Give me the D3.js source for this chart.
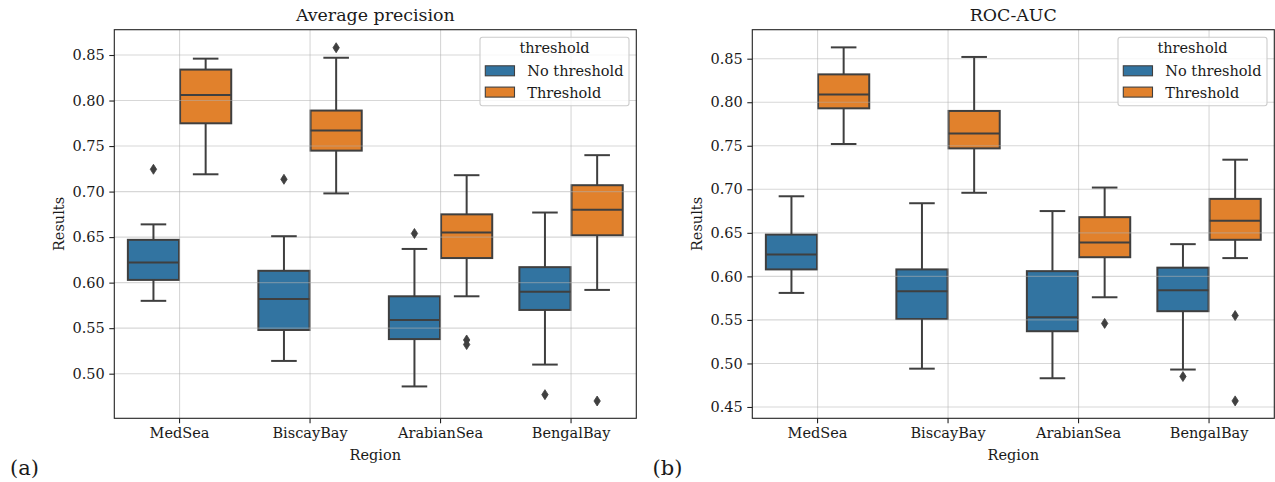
<!DOCTYPE html>
<html>
<head>
<meta charset="utf-8">
<script src="https://cdn.jsdelivr.net/npm/d3@7"></script>
<style>
  html, body { margin: 0; padding: 0; background: #fff; }
  svg { display: block; }
  text { font-family: "DejaVu Serif", serif; fill: #1a1a1a; }
</style>
</head>
<body>
<svg id="chart" width="1275" height="482"></svg>
<script>
// Categories and groups
const regions = ["MedSea", "BiscayBay", "ArabianSea", "BengalBay"];
const groups = ["No threshold", "Threshold"];

// Box statistics per region: [lower whisker, Q1, median, Q3, upper whisker]
const apNoThreshold = [
  [0.580, 0.603, 0.622, 0.647, 0.664],
  [0.514, 0.548, 0.582, 0.613, 0.651],
  [0.486, 0.538, 0.559, 0.585, 0.637],
  [0.510, 0.570, 0.590, 0.617, 0.677]
];
const apThreshold = [
  [0.719, 0.775, 0.806, 0.834, 0.846],
  [0.698, 0.745, 0.767, 0.789, 0.847],
  [0.585, 0.627, 0.655, 0.675, 0.718],
  [0.592, 0.652, 0.680, 0.707, 0.740]
];
const apNoThresholdOutliers = [[0.7245], [0.7135], [0.654], [0.477]];
const apThresholdOutliers = [[], [0.858], [0.537, 0.532], [0.470]];

const rocNoThreshold = [
  [0.581, 0.608, 0.625, 0.648, 0.692],
  [0.494, 0.551, 0.583, 0.608, 0.684],
  [0.483, 0.537, 0.553, 0.606, 0.675],
  [0.493, 0.560, 0.584, 0.610, 0.637]
];
const rocThreshold = [
  [0.752, 0.793, 0.809, 0.832, 0.863],
  [0.696, 0.747, 0.764, 0.790, 0.852],
  [0.576, 0.622, 0.639, 0.668, 0.702],
  [0.621, 0.642, 0.664, 0.689, 0.734]
];
const rocNoThresholdOutliers = [[], [], [], [0.485]];
const rocThresholdOutliers = [[], [], [0.546], [0.555, 0.457]];

// Tick labels
const apTicks = [0.50, 0.55, 0.60, 0.65, 0.70, 0.75, 0.80, 0.85];
const rocTicks = [0.45, 0.50, 0.55, 0.60, 0.65, 0.70, 0.75, 0.80, 0.85];

const colors = { "No threshold": "#3274a1", "Threshold": "#e1812c" };
const edge = "#3f3f3f";
const fs = "14.5px";

const svg = d3.select("#chart");

function drawPanel(cfg) {
  const { x0, x1, y0, y1, domain, ticks, title, tag, stats, outliers } = cfg;
  const g = svg.append("g");

  const x = d3.scaleBand().domain(regions).range([x0, x1]).padding(0);
  const hue = d3.scaleBand().domain(groups)
    .range([0.1 * x.bandwidth(), 0.9 * x.bandwidth()]).padding(0);
  const y = d3.scaleLinear().domain(domain).range([y1, y0]);

  const boxW = hue.bandwidth() * 0.98;
  const capW = boxW / 2;

  // box bodies
  const boxes = [];
  groups.forEach((grp, gi) => {
    stats[gi].forEach((s, ri) => {
      const cx = x(regions[ri]) + hue(grp) + hue.bandwidth() / 2;
      boxes.push({ grp, cx, s, out: outliers[gi][ri] });
    });
  });

  g.selectAll("rect.box").data(boxes).join("rect")
    .attr("class", "box")
    .attr("x", d => d.cx - boxW / 2)
    .attr("width", boxW)
    .attr("y", d => y(d.s[3]))
    .attr("height", d => y(d.s[1]) - y(d.s[3]))
    .attr("fill", d => colors[d.grp])
    .attr("stroke", edge)
    .attr("stroke-width", 2);

  // grid lines
  const grid = g.append("g");
  grid.selectAll("line.h").data(ticks).join("line")
    .attr("x1", x0).attr("x2", x1)
    .attr("y1", d => y(d)).attr("y2", d => y(d))
    .attr("stroke", "#b0b0b0").attr("stroke-opacity", 0.5).attr("stroke-width", 1.1);
  grid.selectAll("line.v").data(regions).join("line")
    .attr("x1", d => x(d) + x.bandwidth() / 2).attr("x2", d => x(d) + x.bandwidth() / 2)
    .attr("y1", y0).attr("y2", y1)
    .attr("stroke", "#b0b0b0").attr("stroke-opacity", 0.5).attr("stroke-width", 1.1);

  // whiskers, caps, medians
  const lines = g.append("g").attr("stroke", edge).attr("stroke-width", 2);
  boxes.forEach(d => {
    lines.append("line").attr("x1", d.cx).attr("x2", d.cx)
      .attr("y1", y(d.s[0])).attr("y2", y(d.s[1]));
    lines.append("line").attr("x1", d.cx).attr("x2", d.cx)
      .attr("y1", y(d.s[3])).attr("y2", y(d.s[4]));
    lines.append("line").attr("x1", d.cx - capW / 2).attr("x2", d.cx + capW / 2)
      .attr("y1", y(d.s[0])).attr("y2", y(d.s[0]));
    lines.append("line").attr("x1", d.cx - capW / 2).attr("x2", d.cx + capW / 2)
      .attr("y1", y(d.s[4])).attr("y2", y(d.s[4]));
    lines.append("line").attr("x1", d.cx - boxW / 2).attr("x2", d.cx + boxW / 2)
      .attr("y1", y(d.s[2])).attr("y2", y(d.s[2]));
  });

  // outliers as thin diamonds
  const fliers = [];
  boxes.forEach(d => d.out.forEach(v => fliers.push({ cx: d.cx, v })));
  g.selectAll("path.flier").data(fliers).join("path")
    .attr("class", "flier")
    .attr("d", "M0,-5L3.2,0L0,5L-3.2,0Z")
    .attr("transform", d => `translate(${d.cx},${y(d.v)})`)
    .attr("fill", edge).attr("stroke", edge).attr("stroke-width", 0.8);

  // axes
  const yAxis = d3.axisLeft(y).tickValues(ticks).tickFormat(d3.format(".2f"))
    .tickSize(5).tickPadding(4.6);
  const ya = g.append("g").attr("transform", `translate(${x0},0)`).call(yAxis);
  const xAxis = d3.axisBottom(x).tickSize(5).tickPadding(4.6);
  const xa = g.append("g").attr("transform", `translate(0,${y1})`).call(xAxis);
  [ya, xa].forEach(a => {
    a.select(".domain").remove();
    a.selectAll(".tick line").attr("stroke", "#222").attr("stroke-width", 1.1);
    a.selectAll(".tick text").attr("font-size", fs)
      .attr("font-family", "DejaVu Serif").attr("fill", "#1a1a1a");
  });

  // frame
  g.append("rect").attr("x", x0).attr("y", y0)
    .attr("width", x1 - x0).attr("height", y1 - y0)
    .attr("fill", "none").attr("stroke", "#222").attr("stroke-width", 1.1);

  // labels
  const cx = (x0 + x1) / 2;
  g.append("text").attr("x", cx).attr("y", 20.8).attr("text-anchor", "middle")
    .attr("font-size", "17.4px").text(title);
  g.append("text").attr("x", cx).attr("y", 459.5).attr("text-anchor", "middle")
    .attr("font-size", fs).text("Region");
  g.append("text")
    .attr("transform", `translate(${x0 - 50.5},${(y0 + y1) / 2}) rotate(-90)`)
    .attr("text-anchor", "middle").attr("font-size", fs).text("Results");
  g.append("text").attr("x", cfg.tagX).attr("y", 474.5)
    .attr("font-family", "Liberation Serif").attr("font-size", "21px").text(tag);

  // legend
  const lw = 149, lh = 68.5;
  const lx = x1 - 7.3 - lw, ly = y0 + 7.6;
  const leg = g.append("g");
  leg.append("rect").attr("x", lx).attr("y", ly).attr("width", lw).attr("height", lh)
    .attr("rx", 2.5).attr("fill", "#fff").attr("fill-opacity", 0.8)
    .attr("stroke", "#cccccc").attr("stroke-width", 1.1);
  leg.append("text").attr("x", lx + lw / 2).attr("y", ly + 16).attr("text-anchor", "middle")
    .attr("font-size", fs).text("threshold");
  groups.forEach((grp, i) => {
    const ry = ly + 28.5 + i * 21.3;
    leg.append("rect").attr("x", lx + 5.3).attr("y", ry).attr("width", 29.2).attr("height", 10)
      .attr("fill", colors[grp]).attr("stroke", edge).attr("stroke-width", 1.1);
    leg.append("text").attr("x", lx + 47.3).attr("y", ry + 10.6)
      .attr("font-size", fs).text(grp);
  });
}

drawPanel({
  x0: 114.3, x1: 636.3, y0: 29.7, y1: 418.3,
  domain: [0.451, 0.8778], ticks: apTicks,
  title: "Average precision", tag: "(a)", tagX: 10,
  stats: [apNoThreshold, apThreshold],
  outliers: [apNoThresholdOutliers, apThresholdOutliers]
});

drawPanel({
  x0: 752.3, x1: 1274.3, y0: 29.7, y1: 418.3,
  domain: [0.437, 0.8833], ticks: rocTicks,
  title: "ROC-AUC", tag: "(b)", tagX: 652.5,
  stats: [rocNoThreshold, rocThreshold],
  outliers: [rocNoThresholdOutliers, rocThresholdOutliers]
});
</script>
</body>
</html>
